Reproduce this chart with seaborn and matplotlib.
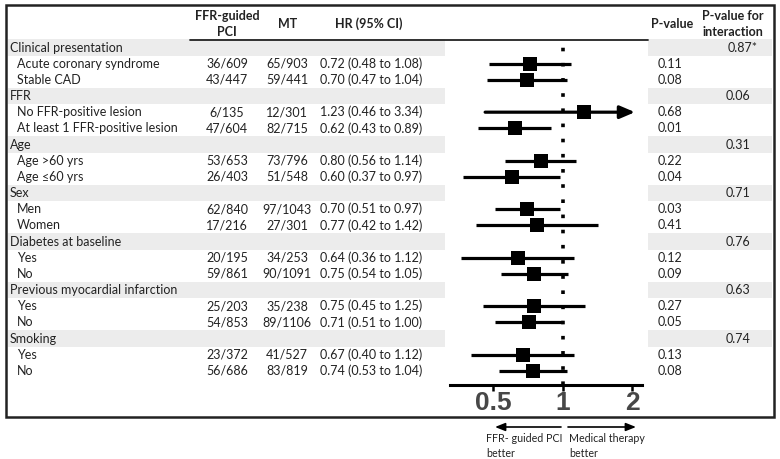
"""
Forest plot of subgroup hazard ratios (FFR-guided PCI vs medical therapy).
"""

import numpy as np
import matplotlib
matplotlib.use("Agg")
import matplotlib.pyplot as plt
import matplotlib.patches as mpatches
import seaborn as sns

# Row labels (category rows have is_group True)
labels = [
    "Clinical presentation", "Acute coronary syndrome", "Stable CAD",
    "FFR", "No FFR-positive lesion", "At least 1 FFR-positive lesion",
    "Age", "Age >60 yrs", "Age \u226460 yrs",
    "Sex", "Men", "Women",
    "Diabetes at baseline", "Yes", "No",
    "Previous myocardial infarction", "Yes", "No",
    "Smoking", "Yes", "No",
]
is_group = [True, False, False, True, False, False, True, False, False,
            True, False, False, True, False, False, True, False, False,
            True, False, False]

ffr_counts = ["", "36/609", "43/447", "", "6/135", "47/604", "", "53/653", "26/403",
              "", "62/840", "17/216", "", "20/195", "59/861", "", "25/203", "54/853",
              "", "23/372", "56/686"]
mt_counts = ["", "65/903", "59/441", "", "12/301", "82/715", "", "73/796", "51/548",
             "", "97/1043", "27/301", "", "34/253", "90/1091", "", "35/238", "89/1106",
             "", "41/527", "83/819"]
hr = [np.nan, 0.72, 0.70, np.nan, 1.23, 0.62, np.nan, 0.80, 0.60,
      np.nan, 0.70, 0.77, np.nan, 0.64, 0.75, np.nan, 0.75, 0.71,
      np.nan, 0.67, 0.74]
ci_low = [np.nan, 0.48, 0.47, np.nan, 0.46, 0.43, np.nan, 0.56, 0.37,
          np.nan, 0.51, 0.42, np.nan, 0.36, 0.54, np.nan, 0.45, 0.51,
          np.nan, 0.40, 0.53]
ci_high = [np.nan, 1.08, 1.04, np.nan, 3.34, 0.89, np.nan, 1.14, 0.97,
           np.nan, 0.97, 1.42, np.nan, 1.12, 1.05, np.nan, 1.25, 1.00,
           np.nan, 1.12, 1.04]
p_values = ["", "0.11", "0.08", "", "0.68", "0.01", "", "0.22", "0.04",
            "", "0.03", "0.41", "", "0.12", "0.09", "", "0.27", "0.05",
            "", "0.13", "0.08"]
p_interaction = ["0.87*", "", "", "0.06", "", "", "0.31", "", "",
                 "0.71", "", "", "0.76", "", "", "0.63", "", "",
                 "0.74", "", ""]

W, H = 780, 459
ROW0, STEP = 47.5, 16.17
X_MIN, X_MAX = 0.324, 2.2
ARROW_CLIP = 2.05

sns.set_theme(style="white")
plt.rcParams["font.family"] = ["Lato", "DejaVu Sans"]

fig = plt.figure(figsize=(W / 100, H / 100), dpi=100)

# table axes in pixel coordinates
tab = fig.add_axes([0, 0, 1, 1])
tab.set_xlim(0, W)
tab.set_ylim(H, 0)
tab.axis("off")

n = len(labels)
rows = np.arange(n)
ypix = ROW0 + rows * STEP

FS = 9
for i in range(n):
    y = ypix[i]
    if is_group[i]:
        tab.add_patch(mpatches.Rectangle((8, y - STEP / 2), 437, STEP,
                                         color="#ececec", lw=0, zorder=0))
        tab.add_patch(mpatches.Rectangle((648, y - STEP / 2), 124, STEP,
                                         color="#ececec", lw=0, zorder=0))
        tab.text(10, y, labels[i], fontsize=FS, va="center", ha="left", color="#222")
    else:
        tab.text(17, y, labels[i], fontsize=FS, va="center", ha="left", color="#222")
    tab.text(227, y, ffr_counts[i], fontsize=FS, va="center", ha="center", color="#222")
    tab.text(287, y, mt_counts[i], fontsize=FS, va="center", ha="center", color="#222")
    if not np.isnan(hr[i]):
        tab.text(320, y, f"{hr[i]:.2f} ({ci_low[i]:.2f} to {ci_high[i]:.2f})",
                 fontsize=FS, va="center", ha="left", color="#222")
    tab.text(658, y, p_values[i], fontsize=FS, va="center", ha="left", color="#222")
    if p_interaction[i]:
        txt = p_interaction[i]
        if txt.endswith("*"):
            tab.text(728, y, txt, fontsize=FS, va="center", ha="left", color="#222")
        else:
            tab.text(750, y, txt, fontsize=FS, va="center", ha="right", color="#222")

# headers
hdr = dict(fontsize=FS, fontweight="bold", va="center", ha="center",
           color="#222", linespacing=1.4)
tab.text(227, 24, "FFR-guided\nPCI", **hdr)
tab.text(288, 24, "MT", **hdr)
tab.text(369, 24, "HR (95% CI)", **hdr)
tab.text(672, 24, "P-value", **hdr)
tab.text(733, 24, "P-value for\ninteraction", **hdr)
tab.plot([190, 648], [39.5, 39.5], color="#222", lw=1.3)

# outer frame
tab.add_patch(mpatches.Rectangle((6, 5), 768, 412, fill=False,
                                 edgecolor="#222", lw=1.8, zorder=5))

# forest axes
y_bottom_px, y_top_px = 385, 40
fx0, fx1 = 450, 642
fa = fig.add_axes([fx0 / W, (H - y_bottom_px) / H, (fx1 - fx0) / W,
                   (y_bottom_px - y_top_px) / H])
fa.set_xscale("log")
fa.set_xlim(X_MIN, X_MAX)
fa.set_ylim((y_bottom_px - ROW0) / STEP, (y_top_px - ROW0) / STEP)
fa.patch.set_alpha(0)
for side in ["top", "left", "right"]:
    fa.spines[side].set_visible(False)
fa.spines["bottom"].set_linewidth(2.2)
fa.spines["bottom"].set_color("black")

fa.axvline(1, color="black", lw=2.6, ls=(0, (1, 3.2)), ymax=0.985, zorder=1)

hr_a = np.array(hr)
lo_a = np.array(ci_low)
hi_a = np.array(ci_high)
mask = ~np.isnan(hr_a)
clipped = mask & (hi_a > X_MAX)
normal = mask & ~clipped
fa.hlines(rows[normal], lo_a[normal], hi_a[normal], color="black", lw=2.3, zorder=2)
for r in rows[clipped]:
    fa.annotate("", xy=(ARROW_CLIP, r), xytext=(lo_a[r], r),
                arrowprops=dict(arrowstyle="-|>,head_length=0.75,head_width=0.32",
                                color="black", lw=2.3, shrinkA=0, shrinkB=0),
                zorder=2)
sns.scatterplot(x=hr_a[mask], y=rows[mask], marker="s", s=100, color="black",
                edgecolor="none", ax=fa, legend=False, zorder=3)

fa.set_xticks([0.5, 1, 2])
fa.set_xticklabels(["0.5", "1", "2"])
fa.xaxis.set_minor_locator(matplotlib.ticker.NullLocator())
fa.tick_params(axis="x", direction="out", length=4, width=1.8, color="black",
               labelsize=19, pad=0, bottom=True)
for t in fa.get_xticklabels():
    t.set_fontweight("bold")
    t.set_color("#474747")
    t.set_family(["Liberation Sans", "DejaVu Sans"])
fa.set_yticks([])
fa.set_xlabel("")
fa.set_ylabel("")

# direction annotations
tab.annotate("", xy=(495, 427), xytext=(561, 427),
             arrowprops=dict(arrowstyle="-|>,head_length=0.5,head_width=0.2",
                             color="black", lw=1.2, shrinkA=0, shrinkB=0))
tab.annotate("", xy=(636, 427), xytext=(568, 427),
             arrowprops=dict(arrowstyle="-|>,head_length=0.5,head_width=0.2",
                             color="black", lw=1.2, shrinkA=0, shrinkB=0))
tab.text(486, 446, "FFR- guided PCI\nbetter", fontsize=7.7, ha="left", va="center",
         color="#222", linespacing=1.5)
tab.text(569, 446, "Medical therapy\nbetter", fontsize=7.7, ha="left", va="center",
         color="#222", linespacing=1.5)

fig.savefig("out.png", dpi=100, facecolor="white")
plt.close(fig)
